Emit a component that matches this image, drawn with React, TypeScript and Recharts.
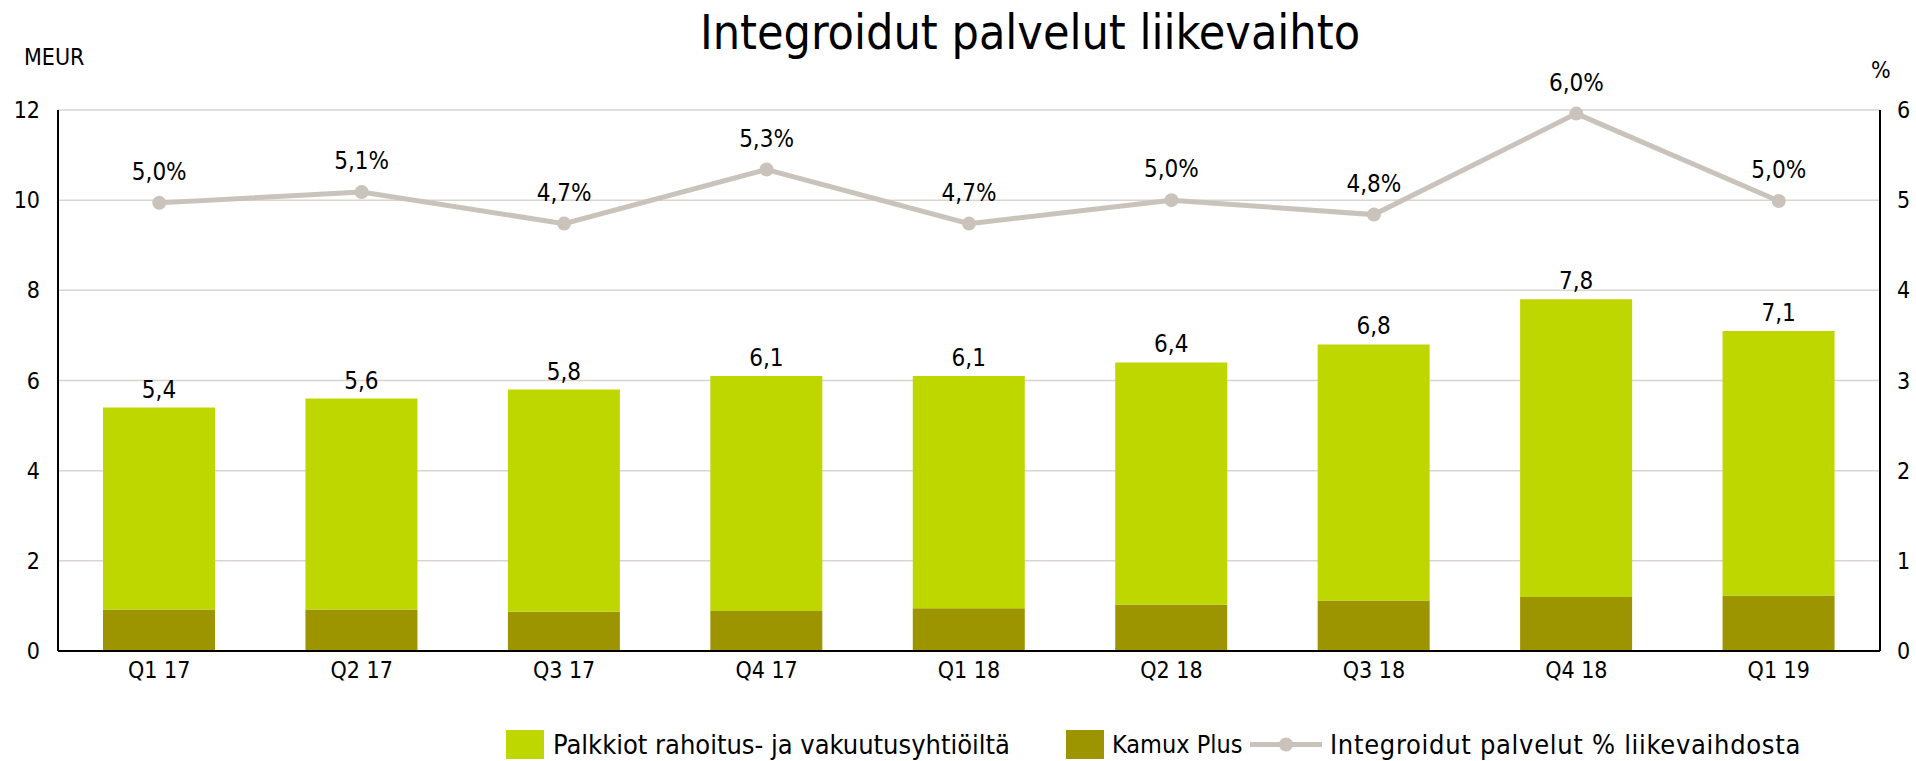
import { Bar, CartesianGrid, ComposedChart, LabelList, Line, XAxis, YAxis } from "recharts";

const quarters = ['Q1 17', 'Q2 17', 'Q3 17', 'Q4 17', 'Q1 18', 'Q2 18', 'Q3 18', 'Q4 18', 'Q1 19'];
const kamuxPlus = [0.92, 0.92, 0.87, 0.89, 0.95, 1.03, 1.12, 1.2, 1.23];
const palkkiot = [4.48, 4.68, 4.93, 5.21, 5.15, 5.37, 5.68, 6.6, 5.87];
const osuus = [4.97, 5.09, 4.74, 5.34, 4.74, 5.0, 4.84, 5.96, 4.99];
const leftTicks = [0, 2, 4, 6, 8, 10, 12];
const rightTicks = [0, 1, 2, 3, 4, 5, 6];

const FONT = '"DejaVu Sans Condensed", "DejaVu Sans", sans-serif';
const LIGHT = '#bed700';
const DARK = '#9c9500';
const LINE = '#c9c3bc';

const fi = (v: number, d = 1) => v.toFixed(d).replace('.', ',');

export default function App() {
    const data = quarters.map((q, i) => ({
        name: q,
        plus: kamuxPlus[i],
        palkkiot: palkkiot[i],
        total: kamuxPlus[i] + palkkiot[i],
        pct: osuus[i],
    }));

    const tick = { fontSize: 23, fill: '#000', fontFamily: FONT };
    const legendText: React.CSSProperties = { position: 'absolute', top: 730, height: 29, lineHeight: '29px', fontSize: 27, whiteSpace: 'nowrap' };

    return (
        <div style={{ position: 'absolute', left: 0, top: 0, width: 1916, height: 761, fontFamily: FONT, background: '#fff' }}>
            <div style={{ position: 'absolute', left: 0, width: 2060, top: 8, textAlign: 'center', fontSize: 48, lineHeight: 1 }}>
                Integroidut palvelut liikevaihto
            </div>
            <div style={{ position: 'absolute', left: 24, top: 46, fontSize: 23, lineHeight: 1 }}>MEUR</div>
            <div style={{ position: 'absolute', left: 1871, top: 59, fontSize: 23, lineHeight: 1 }}>%</div>

            <ComposedChart width={1916} height={761} data={data} margin={{ top: 110, right: 0, bottom: 70, left: 0 }} style={{ fontFamily: FONT }}>
                <CartesianGrid vertical={false} stroke="#d9d4ce" strokeWidth={1.5} yAxisId="left" />
                <XAxis
                    dataKey="name"
                    height={40}
                    tickLine={false}
                    tickSize={0}
                    tickMargin={11}
                    axisLine={{ stroke: '#000', strokeWidth: 2 }}
                    tick={tick}
                />
                <YAxis
                    yAxisId="left"
                    width={58}
                    domain={[0, 12]}
                    ticks={leftTicks}
                    tickLine={false}
                    tickSize={0}
                    tickMargin={18}
                    axisLine={{ stroke: '#000', strokeWidth: 2 }}
                    tick={tick}
                />
                <YAxis
                    yAxisId="right"
                    orientation="right"
                    width={36}
                    domain={[0, 6]}
                    ticks={rightTicks}
                    tickLine={false}
                    tickSize={0}
                    tickMargin={17}
                    axisLine={{ stroke: '#000', strokeWidth: 2 }}
                    tick={tick}
                />
                <Bar yAxisId="left" dataKey="plus" stackId="a" fill={DARK} barSize={112} isAnimationActive={false} />
                <Bar yAxisId="left" dataKey="palkkiot" stackId="a" fill={LIGHT} barSize={112} isAnimationActive={false}>
                    <LabelList
                        dataKey="total"
                        position="top"
                        offset={10}
                        formatter={(v: any) => fi(Number(v))}
                        style={{ fontSize: 24, fill: '#000', fontFamily: FONT }}
                    />
                </Bar>
                <Line
                    yAxisId="right"
                    dataKey="pct"
                    stroke={LINE}
                    strokeWidth={5}
                    dot={{ r: 7, fill: LINE, stroke: LINE, strokeWidth: 0 }}
                    isAnimationActive={false}
                >
                    <LabelList
                        dataKey="pct"
                        position="top"
                        offset={23}
                        formatter={(v: any) => `${fi(Number(v))}%`}
                        style={{ fontSize: 24, fill: '#000', fontFamily: FONT }}
                    />
                </Line>
            </ComposedChart>

            {/* legend */}
            <span style={{ position: 'absolute', left: 506, top: 730, width: 38, height: 29, background: LIGHT }} />
            <span style={{ ...legendText, left: 553 }}>Palkkiot rahoitus- ja vakuutusyhtiöiltä</span>
            <span style={{ position: 'absolute', left: 1066, top: 730, width: 38, height: 29, background: DARK }} />
            <span style={{ ...legendText, left: 1112, fontSize: 25 }}>Kamux Plus</span>
            <svg width={72} height={29} style={{ position: 'absolute', left: 1250, top: 730 }}>
                <line x1={0} x2={72} y1={14.5} y2={14.5} stroke={LINE} strokeWidth={5} />
                <circle cx={36} cy={14.5} r={7} fill={LINE} />
            </svg>
            <span style={{ ...legendText, left: 1330, letterSpacing: 0.7 }}>Integroidut palvelut % liikevaihdosta</span>
        </div>
    );
}
